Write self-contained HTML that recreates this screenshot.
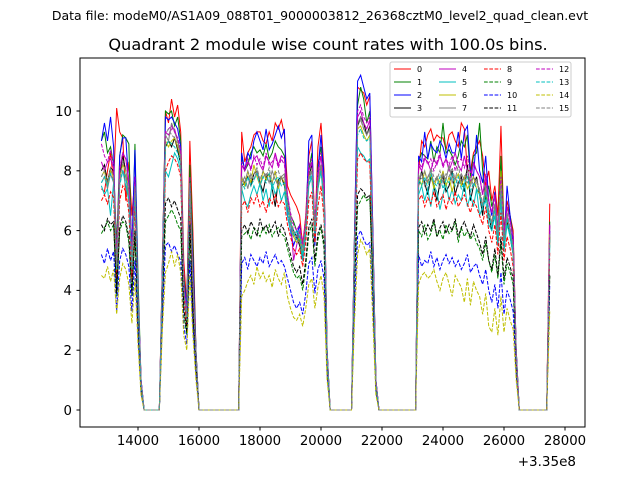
<!DOCTYPE html>
<html><head><meta charset="utf-8">
<style>
html,body{margin:0;padding:0;background:#fff;}
svg{display:block;font-family:"DejaVu Sans","Liberation Sans",sans-serif;}
</style></head>
<body>
<svg id="chart" width="640" height="480" viewBox="0 0 640 480">
<rect x="0" y="0" width="640" height="480" fill="#fff"/>
<text x="320" y="20" font-size="12.5" text-anchor="middle">Data file: modeM0/AS1A09_088T01_9000003812_26368cztM0_level2_quad_clean.evt</text>
<text x="328" y="50" font-size="16.2" text-anchor="middle">Quadrant 2 module wise count rates with 100.0s bins.</text>
<defs><clipPath id="plotclip"><rect x="80" y="58" width="505" height="369"/></clipPath></defs>
<g id="series" clip-path="url(#plotclip)"></g>
<rect x="80" y="58" width="505" height="369" fill="none" stroke="#000" stroke-width="1"/>
<g id="axes"></g>
<text x="576" y="466" font-size="13.5" text-anchor="end">+3.35e8</text>
<g id="legend"></g>
</svg>
<script>
const tStart = 12800, tStep = 100, nBins = 148;
const xTicks = [14000,16000,18000,20000,22000,24000,26000,28000];
const yTicks = [0,2,4,6,8,10];
const seriesNames = ["0","1","2","3","4","5","6","7","8","9","10","11","12","13","14","15"];
const colors = ["#ff0000","#008000","#0000ff","#000000","#bf00bf","#00bfbf","#bfbf00","#808080","#ff0000","#008000","#0000ff","#000000","#bf00bf","#00bfbf","#bfbf00","#808080"];
const s0=[7.4,7.3,8.0,8.6,7.6,10.1,9.3,9.1,7.0,8.3,6.5,7.8,4.0,1.0,0,0,0,0,0,0,5.0,10.0,9.6,10.4,9.8,10.2,9.3,5.0,3.5,9.0,6.0,2.0,0,0,0,0,0,0,0,0,0,0,0,0,0,0,9.3,8.3,8.6,8.8,9.2,9.3,9.3,9.0,8.9,9.3,9.0,9.6,9.4,9.7,9.2,7.5,7.2,7.0,6.8,6.5,5.5,6.5,8.5,9.0,6.0,8.8,9.6,8.0,2.0,0,0,0,0,0,0,0,0,6.0,10.8,10.7,10.6,10.2,10.5,6.0,1.0,0,0,0,0,0,0,0,0,0,0,0,0,0,8.0,9.0,8.8,9.2,9.4,9.0,9.2,9.1,9.1,8.7,9.2,9.3,9.0,8.8,9.6,9.4,8.0,8.0,8.6,8.8,9.0,8.5,7.5,8.0,7.0,7.5,6.5,9.5,6.0,7.0,6.5,6.0,2.0,0,0,0,0,0,0,0,0,0,0,6.9];
const s1=[9.0,9.3,8.6,8.8,8.2,5.5,8.5,9.2,9.1,8.9,5.0,8.9,4.5,1.0,0,0,0,0,0,0,4.8,10.0,9.9,10.0,9.5,9.8,9.0,4.5,3.5,8.2,5.5,2.0,0,0,0,0,0,0,0,0,0,0,0,0,0,0,8.5,8.0,8.2,8.6,8.8,8.6,8.7,8.5,8.9,8.4,8.6,9.0,8.8,8.7,8.5,7.0,6.5,6.3,6.0,5.6,5.0,6.0,8.0,8.6,5.5,8.2,8.8,7.5,2.0,0,0,0,0,0,0,0,0,5.8,10.2,10.8,10.4,9.6,10.0,5.8,1.0,0,0,0,0,0,0,0,0,0,0,0,0,0,8.3,8.6,8.5,8.4,9.0,8.3,8.8,8.6,9.6,8.6,8.7,8.5,8.2,8.5,9.0,8.8,9.2,7.8,8.5,8.6,9.6,8.0,7.0,7.5,6.8,7.2,6.0,8.5,6.0,6.8,6.5,5.8,2.0,0,0,0,0,0,0,0,0,0,0,6.3];
const s2=[9.0,9.6,9.0,9.8,8.8,4.0,8.5,9.1,9.1,7.5,5.5,8.7,4.0,1.0,0,0,0,0,0,0,4.8,9.8,9.7,9.8,9.6,9.4,8.8,4.3,3.5,7.5,5.0,2.0,0,0,0,0,0,0,0,0,0,0,0,0,0,0,8.6,8.0,8.6,8.4,9.0,9.3,9.0,8.7,9.4,8.7,8.9,9.2,9.5,9.1,9.4,6.5,6.0,5.5,5.8,6.2,5.0,6.0,9.0,9.2,5.5,8.0,9.2,7.8,2.0,0,0,0,0,0,0,0,0,6.0,11.0,11.2,10.8,10.4,10.6,6.0,1.0,0,0,0,0,0,0,0,0,0,0,0,0,0,8.5,8.3,9.3,8.4,8.9,8.7,8.6,9.0,8.8,8.4,8.9,8.6,8.6,9.3,8.4,9.3,9.5,8.0,7.8,9.2,8.0,7.6,8.5,7.0,6.5,7.3,6.0,7.0,5.5,7.5,6.5,5.5,2.0,0,0,0,0,0,0,0,0,0,0,6.0];
const s3=[8.0,8.2,7.6,8.1,8.0,4.5,7.8,8.5,8.0,7.0,4.5,7.5,3.5,0.9,0,0,0,0,0,0,4.5,8.8,9.0,8.8,9.1,8.7,8.2,4.0,2.8,7.2,3.0,1.8,0,0,0,0,0,0,0,0,0,0,0,0,0,0,7.5,7.6,7.8,7.5,7.9,8.0,7.6,7.3,7.8,7.9,7.4,6.8,7.7,7.8,7.5,6.8,6.2,6.0,5.8,5.5,5.2,6.2,7.8,8.2,6.0,7.5,8.2,7.0,1.8,0,0,0,0,0,0,0,0,5.5,9.5,9.8,9.6,9.2,9.5,5.5,0.9,0,0,0,0,0,0,0,0,0,0,0,0,0,7.5,8.0,7.6,7.2,7.8,7.5,7.0,7.6,7.8,7.3,7.5,8.0,7.2,7.6,7.8,7.3,8.2,7.0,7.5,7.8,7.2,6.5,7.5,6.5,6.0,6.8,5.5,7.2,5.5,6.3,5.8,5.2,1.8,0,0,0,0,0,0,0,0,0,0,5.8];
const s4=[8.3,8.0,8.3,8.4,8.1,5.0,8.0,8.6,8.4,7.6,5.0,7.6,3.8,1.0,0,0,0,0,0,0,4.6,9.3,9.2,9.4,9.4,9.0,8.6,4.2,3.2,7.6,4.5,1.8,0,0,0,0,0,0,0,0,0,0,0,0,0,0,8.2,8.0,8.3,8.1,8.4,8.5,8.2,8.0,8.5,8.3,8.1,8.6,8.2,8.5,8.4,7.2,6.5,5.0,5.5,6.0,5.5,6.0,8.0,8.3,6.0,7.8,8.5,7.5,1.8,0,0,0,0,0,0,0,0,5.6,9.8,10.0,9.6,9.4,9.7,5.6,1.0,0,0,0,0,0,0,0,0,0,0,0,0,0,8.2,8.0,8.4,8.3,8.0,8.4,8.2,8.5,8.2,8.4,8.0,8.3,8.6,8.2,8.0,8.5,8.0,7.6,8.3,8.0,7.8,7.2,7.8,7.0,6.6,7.2,6.0,7.6,6.0,6.8,6.3,5.8,1.8,0,0,0,0,0,0,0,0,0,0,6.2];
const s5=[7.5,7.2,7.4,6.5,7.6,4.8,7.6,8.0,7.5,7.0,4.8,7.3,3.6,0.9,0,0,0,0,0,0,4.2,8.0,7.8,8.2,8.6,8.4,8.0,4.0,3.0,7.5,4.2,1.8,0,0,0,0,0,0,0,0,0,0,0,0,0,0,7.4,7.0,6.8,7.2,7.5,7.2,7.6,7.0,7.4,6.8,7.6,7.2,7.5,7.0,7.3,6.5,6.0,5.8,6.0,5.8,5.0,5.8,7.5,7.8,5.8,7.4,8.0,6.8,1.8,0,0,0,0,0,0,0,0,5.2,8.8,8.6,8.5,8.3,8.4,5.0,0.9,0,0,0,0,0,0,0,0,0,0,0,0,0,7.2,7.5,7.0,7.4,6.8,7.5,7.3,6.7,7.2,7.6,7.0,7.4,6.9,7.2,7.0,7.6,6.8,7.2,6.8,7.4,6.5,6.8,7.0,6.2,6.0,6.5,5.5,7.0,5.3,6.2,5.8,5.2,1.7,0,0,0,0,0,0,0,0,0,0,5.5];
const s6=[7.8,8.0,7.5,8.0,7.8,4.8,7.8,8.2,8.0,7.2,4.8,7.4,3.6,0.9,0,0,0,0,0,0,4.5,9.0,8.8,9.0,9.1,8.8,8.4,4.0,3.0,7.4,4.2,1.8,0,0,0,0,0,0,0,0,0,0,0,0,0,0,7.8,7.5,8.0,7.6,8.2,7.8,7.5,8.0,7.7,7.9,7.6,8.0,7.4,7.8,7.6,6.8,6.3,5.8,5.6,5.8,5.2,6.0,7.8,8.0,6.0,7.6,8.2,7.0,1.8,0,0,0,0,0,0,0,0,5.4,9.4,9.5,9.2,9.0,9.2,5.4,0.9,0,0,0,0,0,0,0,0,0,0,0,0,0,7.8,7.5,8.0,7.6,7.9,7.4,7.8,7.6,8.0,7.5,7.8,7.3,7.7,7.9,7.5,7.8,7.4,7.6,7.8,7.4,7.2,6.8,7.4,6.6,6.2,6.8,5.8,8.0,5.6,6.4,6.0,5.4,1.8,0,0,0,0,0,0,0,0,0,0,5.8];
const s7=[7.6,7.8,7.4,7.9,7.6,4.6,7.6,8.0,7.8,7.0,4.6,7.2,3.5,0.9,0,0,0,0,0,0,4.4,9.2,9.0,9.6,9.3,9.0,8.5,4.0,3.0,7.3,4.2,1.8,0,0,0,0,0,0,0,0,0,0,0,0,0,0,7.6,7.8,7.4,7.9,7.7,8.0,7.5,7.8,7.9,7.6,8.0,7.7,7.5,7.8,7.9,6.8,6.2,5.9,5.7,5.6,5.2,6.0,7.7,8.0,6.0,7.6,8.2,7.0,1.8,0,0,0,0,0,0,0,0,5.4,9.6,9.8,9.4,9.2,9.4,5.4,0.9,0,0,0,0,0,0,0,0,0,0,0,0,0,7.7,7.9,7.5,7.8,8.0,7.6,7.8,7.4,7.9,7.7,8.2,7.6,7.8,7.5,7.9,7.7,7.6,7.8,7.5,7.7,7.3,6.8,7.5,6.6,6.2,6.9,5.8,7.4,5.6,6.5,6.0,5.4,1.8,0,0,0,0,0,0,0,0,0,0,5.9];
const s8=[7.0,7.2,6.9,7.3,7.1,4.4,7.0,7.5,7.3,6.6,4.4,6.8,3.3,0.8,0,0,0,0,0,0,4.0,8.0,8.3,8.5,8.4,8.2,7.8,3.8,2.8,6.8,3.8,1.6,0,0,0,0,0,0,0,0,0,0,0,0,0,0,6.8,7.0,6.6,7.1,6.9,7.2,6.8,7.0,6.6,7.1,6.9,7.2,6.8,7.0,6.9,6.2,5.8,5.4,5.2,5.4,4.8,5.6,7.0,7.3,5.6,6.8,7.5,6.4,1.6,0,0,0,0,0,0,0,0,5.0,8.4,8.6,8.4,8.3,8.3,4.8,0.8,0,0,0,0,0,0,0,0,0,0,0,0,0,7.0,7.2,6.8,7.1,6.9,7.3,6.8,7.0,7.2,6.7,7.1,6.9,7.3,6.8,7.0,7.2,6.9,6.6,7.0,6.8,6.5,6.2,6.8,6.0,5.6,6.2,5.2,6.6,5.0,5.8,5.4,4.8,1.6,0,0,0,0,0,0,0,0,0,0,5.3];
const s9=[5.9,6.1,6.3,6.0,6.2,3.8,6.0,6.3,6.2,5.6,3.8,5.8,2.9,0.7,0,0,0,0,0,0,3.5,6.3,6.5,6.7,6.5,6.2,6.0,3.2,2.5,5.8,3.2,1.4,0,0,0,0,0,0,0,0,0,0,0,0,0,0,5.8,5.9,6.0,5.7,6.1,6.0,5.8,6.1,5.9,6.2,5.8,6.0,6.1,5.9,5.8,5.4,5.0,4.6,4.4,4.5,4.0,4.8,5.9,6.2,4.8,5.7,6.1,5.4,1.4,0,0,0,0,0,0,0,0,4.2,6.8,7.0,7.2,7.0,7.1,4.2,0.7,0,0,0,0,0,0,0,0,0,0,0,0,0,6.0,5.8,6.2,5.7,5.9,6.3,5.8,6.0,5.7,6.2,5.9,6.0,6.3,5.6,6.1,5.8,6.0,5.7,5.9,5.6,5.4,5.0,5.6,5.0,4.6,5.2,4.4,5.6,4.2,4.9,4.6,4.2,1.4,0,0,0,0,0,0,0,0,0,0,4.5];
const s10=[5.2,4.9,5.4,5.0,5.3,3.3,5.0,5.4,5.2,4.8,3.3,5.0,2.5,0.6,0,0,0,0,0,0,3.0,5.5,5.6,5.3,5.5,5.2,5.0,2.8,2.2,5.0,2.8,1.2,0,0,0,0,0,0,0,0,0,0,0,0,0,0,4.9,5.1,4.7,5.2,5.0,4.8,5.1,4.9,5.3,4.8,5.0,5.2,4.9,5.0,4.8,4.4,4.0,3.6,3.4,3.6,3.2,3.9,4.9,5.1,3.9,4.7,5.0,4.4,1.2,0,0,0,0,0,0,0,0,3.6,5.8,6.0,5.7,5.5,5.6,3.5,0.6,0,0,0,0,0,0,0,0,0,0,0,0,0,5.2,4.8,5.0,4.9,5.3,4.8,5.1,4.7,5.0,5.2,4.9,5.1,4.8,5.0,4.7,4.9,5.2,4.6,4.8,4.9,4.5,4.2,4.7,4.0,3.6,4.2,3.4,4.6,3.2,4.0,3.7,3.3,1.2,0,0,0,0,0,0,0,0,0,0,4.2];
const s11=[6.2,6.0,6.4,6.2,6.3,3.9,6.1,6.5,6.3,5.8,3.9,6.0,3.0,0.7,0,0,0,0,0,0,3.6,6.9,7.1,6.8,7.0,6.7,6.4,3.4,2.6,6.2,3.4,1.5,0,0,0,0,0,0,0,0,0,0,0,0,0,0,6.0,6.2,5.9,6.3,6.1,5.8,6.4,6.0,6.2,5.9,6.1,6.3,5.8,6.2,6.0,5.6,5.2,4.8,4.6,4.8,4.2,5.0,6.1,6.4,5.0,5.9,6.2,5.6,1.5,0,0,0,0,0,0,0,0,4.4,7.2,7.4,7.3,7.1,7.2,4.3,0.7,0,0,0,0,0,0,0,0,0,0,0,0,0,6.1,6.3,5.9,6.2,6.0,6.4,5.8,6.1,6.3,5.9,6.2,6.0,6.4,5.8,6.1,6.3,6.0,5.8,6.2,5.9,5.6,5.2,5.8,5.0,4.7,5.4,4.5,5.8,4.4,5.1,4.8,4.4,1.5,0,0,0,0,0,0,0,0,0,0,4.5];
const s12=[8.9,8.5,8.3,8.7,8.2,5.2,8.1,8.6,8.4,7.7,5.2,7.8,3.9,1.0,0,0,0,0,0,0,4.6,9.3,9.4,9.5,9.3,9.1,8.7,4.3,3.2,7.8,4.5,1.9,0,0,0,0,0,0,0,0,0,0,0,0,0,0,8.3,8.1,8.4,8.0,8.5,8.2,8.4,8.1,8.6,8.2,8.3,8.5,8.1,8.4,8.2,7.2,6.6,6.2,6.0,6.2,5.6,6.4,8.2,8.4,6.3,8.0,8.6,7.5,1.9,0,0,0,0,0,0,0,0,5.6,10.0,10.2,9.8,9.6,9.8,5.6,1.0,0,0,0,0,0,0,0,0,0,0,0,0,0,8.3,8.1,8.5,8.2,8.4,8.0,8.3,8.6,8.1,8.4,8.2,8.5,8.0,8.3,8.4,8.1,8.5,7.9,8.2,8.0,7.8,7.2,7.9,7.0,6.6,7.2,6.0,7.8,5.9,6.8,6.3,5.8,1.9,0,0,0,0,0,0,0,0,0,0,6.2];
const s13=[7.6,7.8,7.5,7.9,7.6,4.7,7.5,8.0,7.8,7.0,4.7,7.3,3.6,0.9,0,0,0,0,0,0,4.3,8.8,9.0,8.9,8.8,8.6,8.2,4.0,3.0,7.4,4.2,1.8,0,0,0,0,0,0,0,0,0,0,0,0,0,0,7.6,7.4,7.8,7.5,7.7,7.9,7.5,7.8,7.6,7.9,7.4,7.7,7.8,7.5,7.6,6.8,6.3,5.9,5.7,5.8,5.2,6.0,7.6,7.9,5.9,7.4,8.0,7.0,1.8,0,0,0,0,0,0,0,0,5.3,9.2,9.4,9.1,9.0,9.1,5.3,0.9,0,0,0,0,0,0,0,0,0,0,0,0,0,7.7,7.5,7.8,7.4,7.9,7.6,7.5,7.8,7.4,7.7,7.6,7.9,7.5,7.8,7.4,7.6,7.8,7.3,7.6,7.4,7.2,6.7,7.3,6.5,6.1,6.7,5.7,7.3,5.5,6.4,5.9,5.3,1.8,0,0,0,0,0,0,0,0,0,0,5.7];
const s14=[4.5,4.4,4.8,4.3,4.7,3.2,4.4,4.9,4.7,4.2,2.9,4.4,2.2,0.5,0,0,0,0,0,0,2.7,4.6,4.9,5.3,4.8,5.2,4.6,2.5,2.0,4.5,2.5,1.0,0,0,0,0,0,0,0,0,0,0,0,0,0,0,3.8,4.0,4.3,4.5,4.2,4.8,4.4,4.6,4.3,4.5,4.1,4.7,4.4,4.2,4.6,3.8,3.4,3.1,3.0,3.2,2.8,3.4,4.2,4.4,3.4,4.1,4.5,3.8,1.0,0,0,0,0,0,0,0,0,3.0,5.2,5.7,5.5,5.2,5.4,3.0,0.5,0,0,0,0,0,0,0,0,0,0,0,0,0,4.2,4.5,4.6,4.4,4.5,4.7,4.3,4.0,4.4,4.6,4.2,3.8,4.5,4.3,4.1,3.6,4.4,3.5,4.3,4.0,3.8,3.2,3.9,2.8,2.6,3.4,2.5,3.8,2.6,3.4,3.0,2.7,1.0,0,0,0,0,0,0,0,0,0,0,3.3];
const s15=[7.8,8.0,7.6,8.1,7.8,4.8,7.7,8.3,8.0,7.2,4.8,7.5,3.7,0.9,0,0,0,0,0,0,4.4,9.2,9.4,9.2,9.1,8.9,8.4,4.1,3.1,7.6,4.3,1.8,0,0,0,0,0,0,0,0,0,0,0,0,0,0,7.8,7.6,8.0,7.7,7.9,8.1,7.7,8.0,7.8,8.1,7.6,7.9,8.0,7.7,7.8,7.0,6.5,6.0,5.8,6.0,5.4,6.2,7.8,8.1,6.1,7.6,8.2,7.2,1.8,0,0,0,0,0,0,0,0,5.4,9.5,9.7,9.4,9.2,9.4,5.4,0.9,0,0,0,0,0,0,0,0,0,0,0,0,0,7.9,7.7,8.0,7.6,8.1,7.8,7.7,8.0,7.6,7.9,7.8,8.1,7.7,8.2,7.6,7.8,8.0,7.5,7.8,7.6,7.4,6.9,7.5,6.7,6.3,6.9,5.9,7.5,5.7,6.6,6.1,5.5,1.8,0,0,0,0,0,0,0,0,0,0,5.9];
const allSeries=[s0,s1,s2,s3,s4,s5,s6,s7,s8,s9,s10,s11,s12,s13,s14,s15];

const NS="http://www.w3.org/2000/svg";
function xScale(t){return 138+(t-14000)*0.0305;}
function yScale(v){return 410-v*29.9;}
function binTime(i){return tStart+i*tStep;}

const sg=document.getElementById('series');
allSeries.forEach(function(vals,k){
  let d="";
  vals.forEach(function(v,i){d+=(i?"L":"M")+xScale(binTime(i)).toFixed(2)+" "+yScale(v).toFixed(2);});
  const p=document.createElementNS(NS,'path');
  p.setAttribute('d',d);
  p.setAttribute('fill','none');
  p.setAttribute('stroke',colors[k]);
  p.setAttribute('stroke-width','1');
  if(k>=8)p.setAttribute('stroke-dasharray','3.7,1.6');
  
  
  sg.appendChild(p);
});

const ax=document.getElementById('axes');
xTicks.forEach(function(t){
  const x=xScale(t);
  const l=document.createElementNS(NS,'line');
  l.setAttribute('x1',x);l.setAttribute('x2',x);l.setAttribute('y1',427);l.setAttribute('y2',430.5);
  l.setAttribute('stroke','#000');
  
  
  ax.appendChild(l);
  const tx=document.createElementNS(NS,'text');
  tx.setAttribute('x',x);tx.setAttribute('y',445);tx.setAttribute('font-size','13.3');tx.setAttribute('text-anchor','middle');
  tx.textContent=String(t);
  
  
  ax.appendChild(tx);
});
yTicks.forEach(function(v){
  const y=yScale(v);
  const l=document.createElementNS(NS,'line');
  l.setAttribute('x1',76.5);l.setAttribute('x2',80);l.setAttribute('y1',y);l.setAttribute('y2',y);
  l.setAttribute('stroke','#000');
  
  
  ax.appendChild(l);
  const tx=document.createElementNS(NS,'text');
  tx.setAttribute('x',72);tx.setAttribute('y',y+4.8);tx.setAttribute('font-size','13.3');tx.setAttribute('text-anchor','end');
  tx.textContent=String(v);
  
  
  ax.appendChild(tx);
});

const lg=document.getElementById('legend');
const box=document.createElementNS(NS,'rect');
box.setAttribute('x',390);box.setAttribute('y',62);box.setAttribute('width',181);box.setAttribute('height',55);
box.setAttribute('rx',2);box.setAttribute('fill','#fff');box.setAttribute('fill-opacity','0.8');box.setAttribute('stroke','#ccc');


lg.appendChild(box);
const colX=[394,439,484,536];
const rowY=[69,82,95,108];
seriesNames.forEach(function(n,k){
  const c=Math.floor(k/4), r=k%4;
  const l=document.createElementNS(NS,'line');
  l.setAttribute('x1',colX[c]);l.setAttribute('x2',colX[c]+17);l.setAttribute('y1',rowY[r]);l.setAttribute('y2',rowY[r]);
  l.setAttribute('stroke',colors[k]);
  if(k>=8)l.setAttribute('stroke-dasharray','3.7,1.6');
  
  
  lg.appendChild(l);
  const tx=document.createElementNS(NS,'text');
  tx.setAttribute('x',colX[c]+23);tx.setAttribute('y',rowY[r]+3);tx.setAttribute('font-size','8');
  tx.textContent=n;
  
  
  lg.appendChild(tx);
});
</script>
</body></html>
